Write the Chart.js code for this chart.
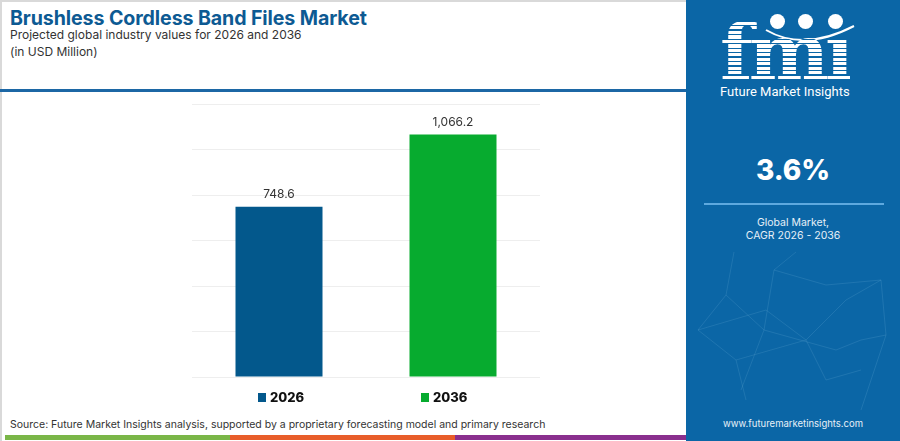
<!DOCTYPE html>
<html>
<head>
<meta charset="utf-8">
<script src="https://cdn.jsdelivr.net/npm/chart.js@4.4.1/dist/chart.umd.min.js"></script>
<style>
  html, body { margin: 0; padding: 0; }
  body { width: 900px; height: 441px; position: relative; overflow: hidden; background: #fff; font-family: Inter, "Open Sans", sans-serif; }
  .frame { position: absolute; left: 0; top: 0; width: 686px; height: 441px; border-left: 2px solid #d9d9d9; border-top: 2px solid #d9d9d9; box-sizing: border-box; }
  .title { position: absolute; left: 10px; top: 6px; font-size: 19.6px; font-weight: 700; color: #0d5a93; letter-spacing: -0.1px; white-space: nowrap; }
  .sub { position: absolute; left: 10px; font-size: 12px; color: #333; white-space: nowrap; }
  .rule { position: absolute; left: 0; top: 89px; width: 686px; height: 3px; background: #1c67a5; }
  #wrap { position: absolute; left: 180px; top: 95px; width: 380px; height: 300px; }
  .legend { position: absolute; top: 389px; font-size: 13px; font-weight: 800; color: #111; display: flex; align-items: center; }
  .legend i { display: inline-block; width: 8px; height: 9px; margin-right: 4px; }
  .source { position: absolute; left: 10px; top: 418px; font-size: 10.5px; color: #333; white-space: nowrap; }
  .stripe { position: absolute; top: 435px; height: 5px; }
  .panel { position: absolute; left: 686px; top: 0; width: 214px; height: 441px; background: #0b66a6; color: #fff; }
  .logo { position: absolute; left: 34px; top: 13px; font-family: "DejaVu Serif", serif; font-weight: bold; font-size: 76px; line-height: 80px; letter-spacing: -4px;
          background: repeating-linear-gradient(180deg, #fff 0 3px, #0b66a6 3px 4.5px); -webkit-background-clip: text; background-clip: text; color: transparent; }
  .dot { position: absolute; width: 15px; height: 15px; border-radius: 50%; background: #fff; }
  .brand { position: absolute; left: 34px; top: 84px; font-size: 13px; font-weight: 400; color: #fff; font-family: Roboto, sans-serif; white-space: nowrap; }
  .cagr { position: absolute; left: 0; width: 214px; top: 153px; text-align: center; font-size: 28px; font-weight: 800; }
  .line { position: absolute; left: 18px; width: 180px; top: 203px; height: 2px; background: #5ea9df; }
  .lbl { position: absolute; left: 0; width: 214px; text-align: center; font-size: 10.5px; color: #e6f0f8; }
  .site { position: absolute; left: 0; width: 214px; top: 418px; text-align: center; font-size: 9.5px; color: #e6f0f8; }
  svg.net, svg.arc { position: absolute; left: 0; }
  svg.net { top: 250px; }
  svg.arc { top: 0; }
</style>
</head>
<body>
<div class="frame"></div>
<div class="title">Brushless Cordless Band Files Market</div>
<div class="sub" style="top:27px">Projected global industry values for 2026 and 2036</div>
<div class="sub" style="top:44px">(in USD Million)</div>
<div class="rule"></div>

<div id="wrap"><canvas id="chart"></canvas></div>
<div id="legend"></div>

<div class="source">Source: Future Market Insights analysis, supported by a proprietary forecasting model and primary research</div>
<div class="stripe" style="left:5px;width:225px;background:#7ab648"></div>
<div class="stripe" style="left:230px;width:225px;background:#e85d2a"></div>
<div class="stripe" style="left:455px;width:231px;background:#8a2f8e"></div>

<div class="panel">
  <svg class="net" width="214" height="165">
    <g stroke="#8fc3e6" stroke-opacity="0.2" stroke-width="0.8" fill="none">
      <polyline points="48,2 40,45 12,80 50,110 60,150"/>
      <polyline points="110,2 88,20 140,35 195,30 200,85 175,160"/>
      <polyline points="12,80 80,60 120,90 160,50 195,30"/>
      <polyline points="40,45 78,80 150,100 175,90 200,85"/>
      <polyline points="50,110 120,90 140,130 175,120"/>
      <polyline points="88,20 78,80 55,140"/>
    </g>
  </svg>
  <svg class="arc" width="214" height="60">
    <path d="M 80 30 Q 118 52 168 26" stroke="#fff" stroke-width="2" fill="none"/>
  </svg>
  <div class="logo">fmı</div>
  <div class="dot" style="left:84px;top:14px"></div>
  <div class="dot" style="left:112px;top:14px"></div>
  <div class="dot" style="left:142px;top:14px"></div>
  <div class="brand">Future Market Insights</div>
  <div class="cagr">3.6%</div>
  <div class="line"></div>
  <div class="lbl" style="top:216px">Global Market,</div>
  <div class="lbl" style="top:229px">CAGR 2026 - 2036</div>
  <div class="site">www.futuremarketinsights.com</div>
</div>

<script>
const years = ['2026', '2036'];
const values = [748.6, 1066.2];
const barColors = ['#03588c', '#07ab2f'];
const yTicks = [0, 200, 400, 600, 800, 1000, 1200];

// legend built from the same arrays
const legendX = [258, 421];
document.getElementById('legend').innerHTML = years.map((y, i) =>
  `<div class="legend" style="left:${legendX[i]}px"><i style="background:${barColors[i]}"></i>${y}</div>`).join('');

const valueLabels = {
  id: 'valueLabels',
  afterDatasetsDraw(chart) {
    const { ctx } = chart;
    const meta = chart.getDatasetMeta(0);
    ctx.save();
    ctx.font = '12px Inter, "Open Sans", sans-serif';
    ctx.fillStyle = '#333';
    ctx.textAlign = 'center';
    ctx.textBaseline = 'bottom';
    meta.data.forEach((bar, i) => {
      const txt = values[i].toLocaleString('en-US', { minimumFractionDigits: 1, maximumFractionDigits: 1 });
      ctx.fillText(txt, bar.x, bar.y - 6);
    });
    ctx.restore();
  }
};

new Chart(document.getElementById('chart').getContext('2d'), {
  type: 'bar',
  data: { labels: years, datasets: [{ data: values, backgroundColor: barColors, borderWidth: 0, barPercentage: 0.5, categoryPercentage: 1 }] },
  options: {
    responsive: true, maintainAspectRatio: false, animation: false,
    layout: { padding: { left: 12, right: 20, top: 9, bottom: 18 } },
    plugins: { legend: { display: false }, tooltip: { enabled: false } },
    scales: {
      x: { display: false },
      y: {
        min: yTicks[0], max: yTicks[yTicks.length - 1],
        afterBuildTicks: axis => { axis.ticks = yTicks.map(v => ({ value: v })); },
        ticks: { display: false },
        border: { display: false },
        grid: { color: '#eeeeee', lineWidth: 1, drawTicks: false }
      }
    }
  },
  plugins: [valueLabels]
});
</script>
</body>
</html>
